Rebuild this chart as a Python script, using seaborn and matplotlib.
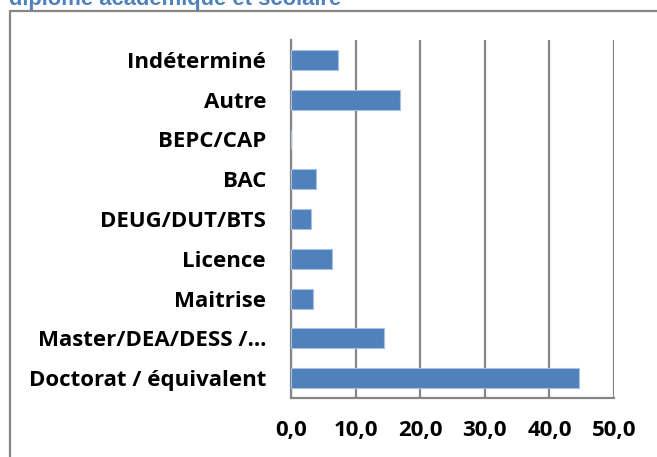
import matplotlib
matplotlib.use("Agg")
import matplotlib.pyplot as plt
import matplotlib.patches as patches
import seaborn as sns
import pandas as pd
from matplotlib.ticker import FuncFormatter

# diplome categories, top to bottom as in the chart
categories = ["Indéterminé", "Autre", "BEPC/CAP", "BAC", "DEUG/DUT/BTS",
              "Licence", "Maitrise", "Master/DEA/DESS /…", "Doctorat / équivalent"]
values = [7.3, 16.9, 0.0, 3.8, 3.1, 6.3, 3.4, 14.4, 44.6]
x_ticks = [0, 10, 20, 30, 40, 50]

df = pd.DataFrame({"diplome": categories, "pct": values})

sns.set_style("white")
plt.rcParams["font.family"] = ["Open Sans", "DejaVu Sans"]

fig = plt.figure(figsize=(6.57, 4.57), dpi=100)
ax = fig.add_axes([291 / 657, 1 - 398 / 457, 323 / 657, 358 / 457])

sns.barplot(data=df, y="diplome", x="pct", orient="h", order=categories,
            color="#4F81BD", saturation=1, width=0.5, edgecolor="#A9C1E0",
            linewidth=0.8, ax=ax, zorder=3)

ax.set_xlim(0, 50)
ax.set_ylim(len(categories) - 0.5, -0.5)
ax.set_xticks(x_ticks)
ax.xaxis.set_major_formatter(FuncFormatter(lambda v, p: f"{v:.1f}".replace(".", ",")))
ax.grid(axis="x", color="#868686", linewidth=1.6, zorder=0)
ax.set_xlabel("")
ax.set_ylabel("")

for side in ["top", "right"]:
    ax.spines[side].set_visible(False)
for side in ["left", "bottom"]:
    ax.spines[side].set_color("#868686")
    ax.spines[side].set_linewidth(1.6)

ax.tick_params(axis="y", which="major", length=0, pad=18, labelcolor="black")
ax.set_yticks([i - 0.5 for i in range(len(categories) + 1)], minor=True)
ax.tick_params(axis="y", which="minor", length=5, width=1.6, color="#868686", direction="out")
ax.tick_params(axis="x", length=5, width=1.6, color="#868686", direction="out", pad=11,
               labelcolor="black")

for lab in ax.get_yticklabels():
    lab.set_fontsize(16)
    lab.set_fontweight("bold")
for lab in ax.get_xticklabels():
    lab.set_fontsize(16)
    lab.set_fontweight("bold")

# chart frame, cut off at right and bottom
fig.patches.append(patches.Rectangle((10 / 657, -0.1), 1.2, 1.1 - 11 / 457,
                                     transform=fig.transFigure, fill=False,
                                     edgecolor="#868686", linewidth=1.6))

fig.text(9 / 657, 1 - 5 / 457, "diplôme académique et scolaire", color="#4F81BD",
         fontsize=15.8, fontweight="bold", va="baseline", ha="left",
         family=["Liberation Sans", "DejaVu Sans"])

fig.savefig("out.png", dpi=100)
